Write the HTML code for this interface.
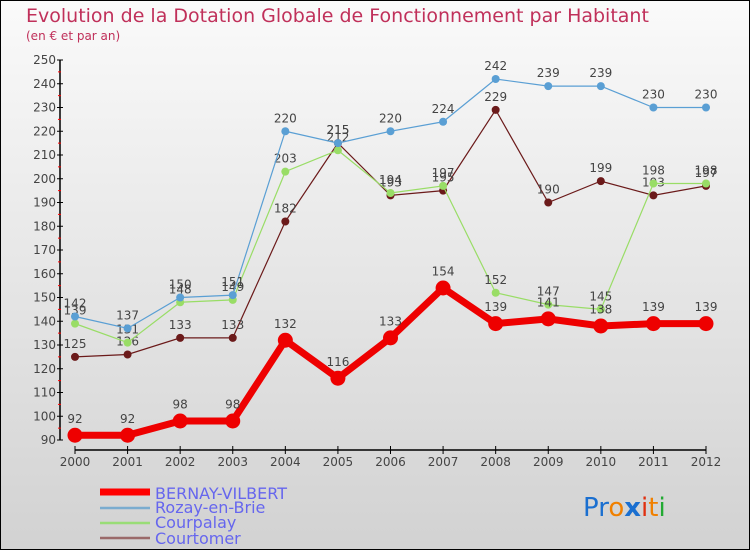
<!DOCTYPE html>
<html><head><meta charset="utf-8"><style>
body{margin:0;width:750px;height:550px;overflow:hidden;font-family:"DejaVu Sans","Liberation Sans",sans-serif}
#wrap{position:absolute;left:0;top:0;width:748px;height:548px;border:1px solid #000;background:linear-gradient(#fafafa,#d2d2d2)}
</style></head><body>
<div id="wrap">
<svg width="750" height="550" id="svg" style="position:absolute;left:-1px;top:-1px">
<text x="26" y="22" font-size="19" fill="#c0305a">Evolution de la Dotation Globale de Fonctionnement par Habitant</text>
<text x="26" y="40" font-size="12" fill="#c0305a">(en € et par an)</text>
<g id="axes"></g><g id="series"></g>
<g>
<line x1="100" y1="492" x2="150" y2="492" stroke="#f00" stroke-width="7"/>
<text x="155" y="499" font-size="16" fill="#6666ee">BERNAY-VILBERT</text>
<line x1="100" y1="508" x2="150" y2="508" stroke="#7aaccf" stroke-width="2.5"/>
<text x="155" y="513" font-size="16" fill="#6666ee">Rozay-en-Brie</text>
<line x1="100" y1="523" x2="150" y2="523" stroke="#99dd77" stroke-width="2.5"/>
<text x="155" y="528" font-size="16" fill="#6666ee">Courpalay</text>
<line x1="100" y1="538" x2="150" y2="538" stroke="#9a6a6a" stroke-width="2.5"/>
<text x="155" y="544" font-size="16" fill="#6666ee">Courtomer</text>
</g>
<text x="583" y="516" font-size="26" font-family="'DejaVu Sans',sans-serif"><tspan fill="#1a6fd0">Pr</tspan><tspan fill="#f08000">o</tspan><tspan fill="#1a6fd0" font-weight="bold">x</tspan><tspan fill="#e03010">i</tspan><tspan fill="#f08000">t</tspan><tspan fill="#22aa33">i</tspan></text>
</svg></div>
<script>
const years=[2000,2001,2002,2003,2004,2005,2006,2007,2008,2009,2010,2011,2012];
const yTicks=[90,100,110,120,130,140,150,160,170,180,190,200,210,220,230,240,250];
const bernay=[92,92,98,98,132,116,133,154,139,141,138,139,139];
const rozay=[142,137,150,151,220,215,220,224,242,239,239,230,230];
const courpalay=[139,131,148,149,203,212,194,197,152,147,145,198,198];
const courtomer=[125,126,133,133,182,215,193,195,229,190,199,193,197];
const NS="http://www.w3.org/2000/svg";
const X=i=>75+i*(706-75)/(years.length-1);
const Y=v=>440-(v-90)*(440-60)/160;
function mk(tag,attrs,parent){const e=document.createElementNS(NS,tag);for(const k in attrs)e.setAttribute(k,attrs[k]);parent.appendChild(e);return e;}
const ax=document.getElementById('axes'),sr=document.getElementById('series');
const yl=mk('line',{x1:60,y1:60,x2:60,y2:440,stroke:'#000','stroke-width':1.5},ax);


yTicks.forEach(t=>{
 const tk=mk('line',{x1:57,y1:Y(t),x2:63,y2:Y(t),stroke:'#000'},ax);
 
 
 const tx=mk('text',{x:56,y:Y(t)+4,'font-size':12,fill:'#444','text-anchor':'end'},ax);tx.textContent=t;
 
 
 if(t<250){const m=mk('line',{x1:58,y1:Y(t+5),x2:61,y2:Y(t+5),stroke:'#f00'},ax);
 
 }
});
const xl=mk('line',{x1:75,y1:450,x2:706,y2:450,stroke:'#000','stroke-width':1.5},ax);


years.forEach((yr,i)=>{
 const tk=mk('line',{x1:X(i),y1:446,x2:X(i),y2:454,stroke:'#000'},ax);
 
 
 const tx=mk('text',{x:X(i),y:466,'font-size':12,fill:'#444','text-anchor':'middle'},ax);tx.textContent=yr;
 
 
});
function series(vals,color,w,r,name){
 const g=mk('g',{},sr);
 
 
 const p=mk('polyline',{points:vals.map((v,i)=>X(i)+','+Y(v)).join(' '),fill:'none',stroke:color,'stroke-width':w},g);
 
 
 vals.forEach((v,i)=>{
  const c=mk('circle',{cx:X(i),cy:Y(v),r:r,fill:color},g);
  
  
  const t=mk('text',{x:X(i),y:Y(v)-r-5,'font-size':12,fill:'#444','text-anchor':'middle'},g);t.textContent=v;
  
  
 });
}
series(courtomer,'#6b1a1a',1.2,4,'courtomer');
series(courpalay,'#99dd66',1.2,4,'courpalay');
series(rozay,'#5a9fd4',1.2,4,'rozay');
series(bernay,'#ee0000',7,7.5,'bernay');
</script></body></html>
